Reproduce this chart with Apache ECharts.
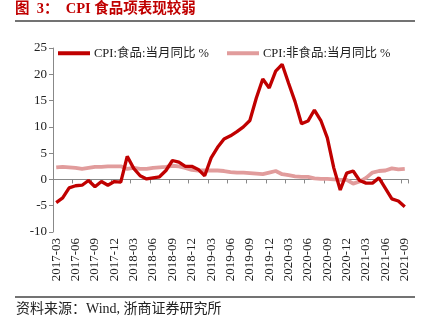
<!DOCTYPE html>
<html>
<head>
<meta charset="utf-8">
<script src="https://cdn.jsdelivr.net/npm/echarts@6/dist/echarts.min.js"></script>
<style>html,body{margin:0;padding:0;background:#fff;}#c{width:428px;height:336px;}</style>
</head>
<body>
<div id="c"></div>
<script>
var months = ['2017-03','2017-04','2017-05','2017-06','2017-07','2017-08','2017-09','2017-10','2017-11','2017-12',
'2018-01','2018-02','2018-03','2018-04','2018-05','2018-06','2018-07','2018-08','2018-09','2018-10','2018-11','2018-12',
'2019-01','2019-02','2019-03','2019-04','2019-05','2019-06','2019-07','2019-08','2019-09','2019-10','2019-11','2019-12',
'2020-01','2020-02','2020-03','2020-04','2020-05','2020-06','2020-07','2020-08','2020-09','2020-10','2020-11','2020-12',
'2021-01','2021-02','2021-03','2021-04','2021-05','2021-06','2021-07','2021-08','2021-09'];
var foodName = 'CPI:食品:当月同比 %';
var nonFoodName = 'CPI:非食品:当月同比 %';
var food = [-4.4,-3.5,-1.6,-1.2,-1.1,-0.2,-1.4,-0.4,-1.1,-0.4,
-0.5,4.4,2.1,0.7,0.1,0.3,0.5,1.7,3.6,3.3,2.5,2.5,
1.9,0.7,4.1,6.1,7.7,8.3,9.1,10.0,11.2,15.5,19.1,17.4,
20.6,21.9,18.3,14.8,10.6,11.1,13.2,11.2,7.9,2.2,-2.0,1.2,
1.6,-0.2,-0.7,-0.7,0.3,-1.7,-3.7,-4.1,-5.2];
var nonFood = [2.3,2.4,2.3,2.2,2.0,2.2,2.4,2.4,2.5,2.5,
2.5,2.0,2.2,2.0,2.0,2.2,2.3,2.4,2.6,2.5,2.2,1.8,
1.7,1.7,1.7,1.7,1.6,1.4,1.3,1.3,1.2,1.1,1.0,1.3,
1.6,1.0,0.8,0.6,0.5,0.5,0.2,0.1,0.1,0.0,-0.1,-0.1,
-0.8,-0.4,0.3,1.3,1.6,1.7,2.1,1.9,2.0];
var yTicks = {min:-10, max:25, interval:5};
var titleText = '图  3：  CPI 食品项表现较弱';
var sourceText = '资料来源：Wind, 浙商证券研究所';

var FONT = "'Liberation Serif','Noto Sans CJK SC',serif";
var RED = '#C00000';
var PINK = '#E19C9C';
var chart = echarts.init(document.getElementById('c'), null, {renderer:'canvas'});
chart.setOption({
  animation:false,
  backgroundColor:'#fff',
  title:{text:titleText,left:15,top:2,padding:0,textStyle:{fontFamily:FONT,fontSize:14.5,fontWeight:'bold',color:RED}},
  graphic:[
    {type:'line',shape:{x1:15,y1:21,x2:415,y2:21},style:{stroke:'#444',lineWidth:1.5}},
    {type:'line',shape:{x1:15,y1:297,x2:415,y2:297},style:{stroke:'#444',lineWidth:1.5}},
    {type:'text',left:16,top:302,style:{text:sourceText,font:"14px 'Liberation Serif','Noto Sans CJK SC',serif",fill:'#222'}}
  ],
  legend:[
    {left:58,top:47,padding:0,icon:'rect',itemWidth:32,itemHeight:4,itemGap:5,data:[foodName],textStyle:{fontFamily:FONT,fontSize:12.5,color:'#222',padding:[0,0,0,-1]}},
    {left:227,top:47,padding:0,icon:'rect',itemWidth:32,itemHeight:4,itemGap:5,data:[nonFoodName],textStyle:{fontFamily:FONT,fontSize:12.5,color:'#222',padding:[0,0,0,-1]}}
  ],
  grid:{left:53,right:20,top:48,bottom:104},
  xAxis:[
    {type:'category',data:months,boundaryGap:true,position:'bottom',
     axisLine:{show:false,onZero:false},axisTick:{show:false},
     axisLabel:{interval:2,rotate:90,margin:6,fontFamily:FONT,fontSize:13,color:'#222'}},
    {type:'category',data:months,boundaryGap:true,position:'bottom',
     axisLine:{show:true,onZero:true,lineStyle:{color:'#888',width:1}},
     axisTick:{show:true,interval:2,length:4,lineStyle:{color:'#888'}},
     axisLabel:{show:false}}
  ],
  yAxis:{type:'value',min:yTicks.min,max:yTicks.max,interval:yTicks.interval,
    axisLine:{show:true,lineStyle:{color:'#888'}},axisTick:{show:true,length:4,lineStyle:{color:'#888'}},
    splitLine:{show:false},
    axisLabel:{margin:6,fontFamily:FONT,fontSize:13,color:'#222'}},
  series:[
    {name:nonFoodName,type:'line',data:nonFood,xAxisIndex:0,showSymbol:false,symbol:'none',z:2,
     lineStyle:{color:PINK,width:3.8},itemStyle:{color:PINK}},
    {name:foodName,type:'line',data:food,xAxisIndex:0,showSymbol:false,symbol:'none',z:3,
     lineStyle:{color:RED,width:3.3},itemStyle:{color:RED}}
  ]
});
</script>
</body>
</html>
